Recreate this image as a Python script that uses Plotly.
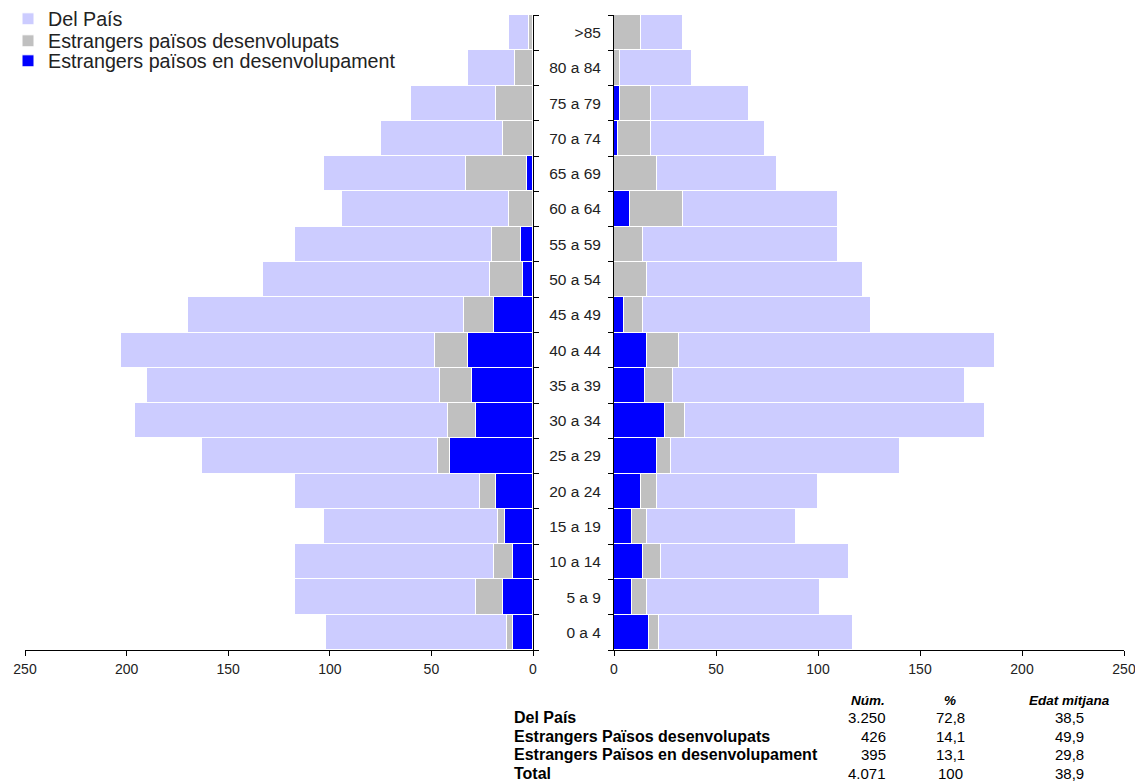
import plotly.graph_objects as go

# ---------------- data ----------------
age_groups = ["0 a 4", "5 a 9", "10 a 14", "15 a 19", "20 a 24", "25 a 29", "30 a 34",
              "35 a 39", "40 a 44", "45 a 49", "50 a 54", "55 a 59", "60 a 64",
              "65 a 69", "70 a 74", "75 a 79", "80 a 84", ">85"]

# left side (bottom -> top)
left_pais = [89, 89, 98, 86, 91, 116, 154, 144, 155, 136, 112, 97, 82, 70, 60, 42, 23, 10]
left_desenv = [3, 13, 9, 3, 8, 6, 14, 16, 16, 15, 16, 14, 12, 30, 15, 18, 9, 2]
left_endesenv = [10, 15, 10, 14, 18, 41, 28, 30, 32, 19, 5, 6, 0, 3, 0, 0, 0, 0]

# right side (bottom -> top)
right_pais = [95, 85, 92, 73, 79, 112, 147, 143, 155, 112, 106, 96, 76, 59, 56, 48, 35, 21]
right_desenv = [5, 7, 9, 7, 8, 7, 10, 14, 16, 9, 16, 14, 26, 21, 16, 15, 3, 13]
right_endesenv = [17, 9, 14, 9, 13, 21, 25, 15, 16, 5, 0, 0, 8, 0, 2, 3, 0, 0]

series_names = ["Del País", "Estrangers països desenvolupats", "Estrangers països en desenvolupament"]
series_colors = ["#CCCCFF", "#C0C0C0", "#0000FF"]

x_ticks = [0, 50, 100, 150, 200, 250]

table_header = ["Núm.", "%", "Edat mitjana"]
table_labels = ["Del País", "Estrangers Països desenvolupats",
                "Estrangers Països en desenvolupament", "Total"]
table_num = ["3.250", "426", "395", "4.071"]
table_pct = ["72,8", "14,1", "13,1", "100"]
table_age = ["38,5", "49,9", "29,8", "38,9"]

# ---------------- figure ----------------
OFF = 8  # page body margin
W, H = 1143 - OFF, 782 - OFF
ML, MR, MT, MB = 25 - OFF, 19, 15 - OFF, 132
PW = W - ML - MR
PH = H - MT - MB

fig = go.Figure()

legend_ids = ["legend", "legend2", "legend3"]
left_sets = [left_endesenv, left_desenv, left_pais]
right_sets = [right_endesenv, right_desenv, right_pais]
order = [2, 1, 0]  # stack order: developing (blue) first, then developed, then native
for k, idx in enumerate(order):
    fig.add_trace(go.Bar(
        y=age_groups, x=left_sets[k], orientation="h",
        name=series_names[idx], marker=dict(color=series_colors[idx], line=dict(color="white", width=1)),
        xaxis="x", yaxis="y", legendgroup=series_names[idx], showlegend=True,
        legend=legend_ids[idx],
    ))
    fig.add_trace(go.Bar(
        y=age_groups, x=right_sets[k], orientation="h",
        name=series_names[idx], marker=dict(color=series_colors[idx], line=dict(color="white", width=1)),
        xaxis="x2", yaxis="y2", legendgroup=series_names[idx], showlegend=False,
        legend=legend_ids[idx],
    ))

left_end = (533 - 25) / PW
right_start = (614 - 25) / PW

axis_font = dict(family="Liberation Sans, Arial, sans-serif", size=14, color="#222222")

def leg(center_px):
    return dict(xref="container", yref="container", x=0.0, y=1 - (center_px - OFF) / H,
                xanchor="left", yanchor="middle",
                font=dict(family="Liberation Sans, Arial, sans-serif", size=19.7, color="#222222"),
                bgcolor="rgba(0,0,0,0)", itemclick=False, itemdoubleclick=False)

fig.update_layout(
    width=W, height=H,
    margin=dict(l=ML, r=MR, t=MT, b=MB, autoexpand=False),
    paper_bgcolor="white", plot_bgcolor="white",
    barmode="stack", bargap=0.0,
    font=dict(family="Liberation Sans, Arial, sans-serif", color="#222222"),
    xaxis=dict(domain=[0, left_end], range=[250, 0], tickvals=x_ticks,
               showline=True, linecolor="black", linewidth=1, ticks="outside", ticklen=5,
               tickcolor="black", showgrid=False, zeroline=False, tickfont=axis_font,
               ticklabelstandoff=1, fixedrange=True),
    xaxis2=dict(domain=[right_start, 1], range=[0, 250], tickvals=x_ticks,
                showline=True, linecolor="black", linewidth=1, ticks="outside", ticklen=5,
                tickcolor="black", showgrid=False, zeroline=False, tickfont=axis_font,
                ticklabelstandoff=1, fixedrange=True),
    yaxis=dict(anchor="x", side="right", categoryorder="array", categoryarray=age_groups,
               showticklabels=False, showline=True, linecolor="black", linewidth=1,
               ticks="outside", ticklen=5, tickcolor="black", tickson="boundaries",
               showgrid=False, range=[-0.5, len(age_groups) - 0.5]),
    yaxis2=dict(anchor="x2", side="left", categoryorder="array", categoryarray=age_groups,
                showticklabels=True, showline=True, linecolor="black", linewidth=1,
                ticks="outside", ticklen=5, tickcolor="black", tickson="boundaries",
                showgrid=False, range=[-0.5, len(age_groups) - 0.5],
                tickfont=dict(family="Liberation Sans, Arial, sans-serif", size=15.5, color="#222222"),
                ticklabelstandoff=9),
    legend=leg(19),
    legend2=leg(41),
    legend3=leg(61),
    showlegend=True,
)

# ---------------- summary table ----------------
def px_x(px):
    return (px - 25) / PW

def px_y(py):
    return (650 - py) / PH

hfont = dict(family="Liberation Sans, Arial, sans-serif", size=13.5, color="black")
lfont = dict(family="Liberation Sans, Arial, sans-serif", size=16, color="black")
nfont = dict(family="Liberation Sans, Arial, sans-serif", size=15, color="black")
hdr_y = 700
row_ys = [717.5, 736, 754.5, 773]

hdr_pos = [(887, "right"), (950, "center"), (1069, "center")]
for txt, (xp, anc) in zip(table_header, hdr_pos):
    fig.add_annotation(x=px_x(xp), y=px_y(hdr_y), xref="paper", yref="paper",
                       text="<b><i>" + txt + "</i></b>", showarrow=False,
                       xanchor=anc, yanchor="middle", font=hfont)

for i in range(len(table_labels)):
    yy = px_y(row_ys[i])
    fig.add_annotation(x=px_x(512), y=yy, xref="paper", yref="paper",
                       text="<b>" + table_labels[i] + "</b>", showarrow=False,
                       xanchor="left", yanchor="middle", font=lfont)
    fig.add_annotation(x=px_x(888), y=yy, xref="paper", yref="paper",
                       text=table_num[i], showarrow=False,
                       xanchor="right", yanchor="middle", font=nfont)
    fig.add_annotation(x=px_x(950), y=yy, xref="paper", yref="paper",
                       text=table_pct[i], showarrow=False,
                       xanchor="center", yanchor="middle", font=nfont)
    fig.add_annotation(x=px_x(1069), y=yy, xref="paper", yref="paper",
                       text=table_age[i], showarrow=False,
                       xanchor="center", yanchor="middle", font=nfont)

fig.write_html("out.html")
